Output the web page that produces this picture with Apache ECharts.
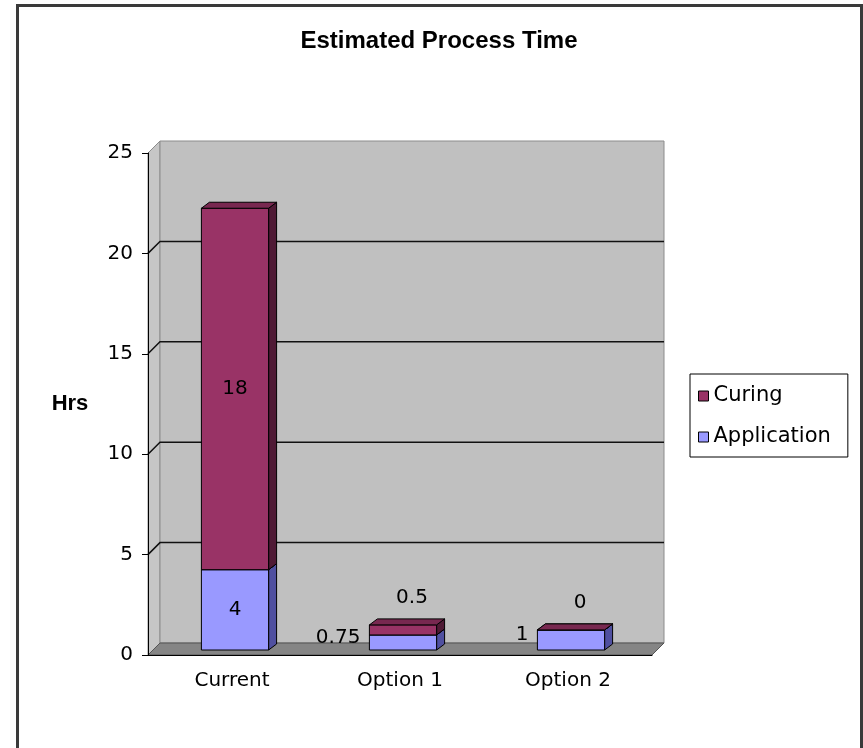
<!DOCTYPE html>
<html>
<head>
<meta charset="utf-8">
<script src="https://cdn.jsdelivr.net/npm/echarts@6/dist/echarts.min.js"></script>
<style>
  html, body { margin: 0; padding: 0; background: #fff; }
  #chart { width: 863px; height: 748px; }
</style>
</head>
<body>
<div id="chart"></div>
<script>
// Hours per process option
const categories = ['Current', 'Option 1', 'Option 2'];
const applicationHrs = [4, 0.75, 1];
const curingHrs = [18, 0.5, 0];
const yTicks = [0, 5, 10, 15, 20, 25];

const FONT = 'DejaVu Sans';
const WALL = [12, -12];      // depth of the chart box (side wall and floor)
const BAR_SHIFT = [3, -5];   // column front face sits part way into the box
const BAR_DEPTH = [8, -6];   // depth of each column

const faces = {
  Curing: { front: '#993366', side: '#4f1a35', top: '#782850' },
  Application: { front: '#9999ff', side: '#5050a0', top: '#7878d0' }
};

// Back wall, side wall, floor and gridlines of the 3D box
function renderWalls(params, api) {
  const cs = params.coordSys;
  const x0 = cs.x, x1 = cs.x + cs.width, yTop = cs.y, yBot = cs.y + cs.height;
  const dx = WALL[0], dy = WALL[1];
  const children = [
    { type: 'polygon', shape: { points: [[x0, yTop], [x0 + dx, yTop + dy], [x0 + dx, yBot + dy], [x0, yBot]] },
      style: { fill: '#c6c6c6', stroke: '#8c8c8c', lineWidth: 1 } },
    { type: 'rect', shape: { x: x0 + dx, y: yTop + dy, width: cs.width, height: cs.height },
      style: { fill: '#c0c0c0', stroke: '#8c8c8c', lineWidth: 1 } },
    { type: 'polygon', shape: { points: [[x0, yBot], [x1, yBot], [x1 + dx, yBot + dy], [x0 + dx, yBot + dy]] },
      style: { fill: '#858585', stroke: '#555555', lineWidth: 1 } }
  ];
  yTicks.forEach(function (v, k) {
    if (k === 0 || k === yTicks.length - 1) return;
    const y = api.coord([0, v])[1];
    children.push({ type: 'polyline',
      shape: { points: [[x0, y], [x0 + dx, y + dy], [x1 + dx, y + dy]] },
      style: { stroke: '#111111', lineWidth: 1.5, fill: null } });
  });
  return { type: 'group', children: children };
}

// One stacked segment drawn as a 3D column piece with its value label
function columnRenderer(name) {
  const col = faces[name];
  return function (params, api) {
    const i = api.value(0);
    const pBase = api.coord([i, api.value(1)]);
    const pTop = api.coord([i, api.value(2)]);
    const val = api.value(3);
    const w = api.size([1, 0])[0] * 0.4;
    const xl = pBase[0] - w / 2 + BAR_SHIFT[0], xr = xl + w;
    const yb = pBase[1] + BAR_SHIFT[1], yt = pTop[1] + BAR_SHIFT[1];
    const ddx = BAR_DEPTH[0], ddy = BAR_DEPTH[1];
    const edge = { stroke: '#000', lineWidth: 1 };
    const children = [
      { type: 'polygon', shape: { points: [[xr, yb], [xr + ddx, yb + ddy], [xr + ddx, yt + ddy], [xr, yt]] },
        style: Object.assign({ fill: col.side }, edge) },
      { type: 'rect', shape: { x: xl, y: yt, width: w, height: yb - yt },
        style: Object.assign({ fill: col.front }, edge) },
      { type: 'polygon', shape: { points: [[xl, yt], [xr, yt], [xr + ddx, yt + ddy], [xl + ddx, yt + ddy]] },
        style: Object.assign({ fill: col.top }, edge) }
    ];
    const h = yb - yt;
    let lx, ly, align;
    if (h >= 24) { lx = (xl + xr) / 2; ly = (yb + yt) / 2; align = 'center'; }
    else if (name === 'Application') { lx = xl - 9; ly = (yb + yt) / 2 - 5; align = 'right'; }
    else { lx = (xl + xr) / 2 + 9; ly = yt + ddy - 21; align = 'center'; }
    children.push({ type: 'text', z2: 10,
      style: { text: String(val), x: lx, y: ly, align: align, verticalAlign: 'middle',
               font: '20px "' + FONT + '"', fill: '#000' } });
    return { type: 'group', children: children };
  };
}

const appData = categories.map(function (c, i) { return [i, 0, applicationHrs[i], applicationHrs[i]]; });
const curData = categories.map(function (c, i) {
  return [i, applicationHrs[i], applicationHrs[i] + curingHrs[i], curingHrs[i]];
});

const chart = echarts.init(document.getElementById('chart'), null, { renderer: 'canvas' });
chart.setOption({
  animation: false,
  backgroundColor: '#ffffff',
  title: {
    text: 'Estimated Process Time',
    left: 439, top: 29, padding: 0, textAlign: 'center',
    textStyle: { fontFamily: 'Liberation Sans', fontWeight: 'bold', fontSize: 24, color: '#000' }
  },
  graphic: [{
    type: 'rect', silent: true, z: 100,
    shape: { x: 17.5, y: 5.5, width: 844, height: 800 },
    style: { fill: null, stroke: '#3a3a3a', lineWidth: 3 }
  }],
  legend: {
    data: ['Curing', 'Application'],
    orient: 'vertical', left: 690, top: 374,
    padding: [11, 17, 9, 8],
    itemGap: 19, itemWidth: 10, itemHeight: 10, itemTextGap: 5,
    icon: 'rect',
    borderColor: '#000', borderWidth: 1,
    itemStyle: { borderColor: '#000', borderWidth: 1 },
    textStyle: { fontFamily: FONT, fontSize: 21, lineHeight: 22, color: '#000' }
  },
  grid: { left: 148, right: 211, top: 153, bottom: 93, containLabel: false },
  xAxis: {
    type: 'category', data: categories, z: 10,
    axisLine: { lineStyle: { color: '#000', width: 1 } },
    axisTick: { length: 5, lineStyle: { color: '#000' } },
    axisLabel: { margin: 16, fontFamily: FONT, fontSize: 20, color: '#000' },
    splitLine: { show: false }
  },
  yAxis: {
    type: 'value', min: 0, max: 25, interval: 5, z: 10,
    name: 'Hrs', nameLocation: 'middle', nameRotate: 0, nameGap: 78,
    nameTextStyle: { fontFamily: 'Liberation Sans', fontWeight: 'bold', fontSize: 22, color: '#000',
                     align: 'center', verticalAlign: 'middle' },
    axisLine: { show: true, lineStyle: { color: '#000', width: 1 } },
    axisTick: { show: true, length: 6, lineStyle: { color: '#000' } },
    axisLabel: { margin: 15, fontFamily: FONT, fontSize: 20, color: '#000' },
    splitLine: { show: false }
  },
  series: [
    { type: 'custom', name: 'walls', silent: true, z: 1,
      data: [[0, 0]], encode: { x: 0, y: 1 }, renderItem: renderWalls },
    { type: 'custom', name: 'Application', z: 3,
      itemStyle: { color: faces.Application.front },
      data: appData, encode: { x: 0, y: [1, 2] }, renderItem: columnRenderer('Application') },
    { type: 'custom', name: 'Curing', z: 4,
      itemStyle: { color: faces.Curing.front },
      data: curData, encode: { x: 0, y: [1, 2] }, renderItem: columnRenderer('Curing') }
  ]
});
</script>
</body>
</html>
